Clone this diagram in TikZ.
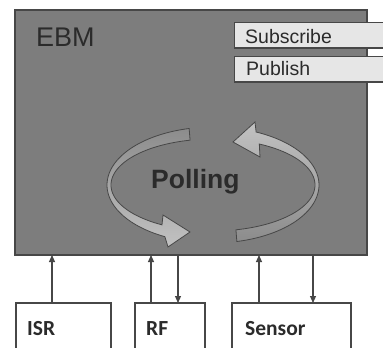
\documentclass[tikz,border=0pt]{standalone}
\usepackage{fontspec}
\setmainfont{Liberation Sans}
\newfontfamily\labelfont{Carlito}
\usetikzlibrary{arrows.meta}
\definecolor{panel}{HTML}{7D7D7D}
\definecolor{edge}{HTML}{474747}
\definecolor{ink}{HTML}{2B2B2B}
\definecolor{tabfill}{HTML}{E6E6E6}
\definecolor{loopdark}{HTML}{8C8C8C}
\definecolor{looplight}{HTML}{C2C2C2}
\tikzset{
  panelbox/.style={draw=edge, line width=1.2pt, fill=panel, inner sep=0pt, outer sep=0pt},
  tabbox/.style={draw=edge, line width=0.9pt, fill=tabfill, inner sep=0pt, outer sep=0pt, minimum height=26pt, minimum width=156pt, anchor=north west},
  unitbox/.style={draw=edge, line width=1.1pt, fill=white, inner sep=0pt, outer sep=0pt, minimum height=60pt, anchor=north west},
  tabtext/.style={font=\fontsize{19.5}{20}\selectfont, text=ink, inner sep=0pt, anchor=base west},
  unittext/.style={font=\labelfont\bfseries\fontsize{21.5}{22}\selectfont, text=ink, inner sep=0pt, anchor=base west},
  conn/.style={draw=edge, line width=1.1pt, -{Triangle[width=6pt,length=7pt]}},
  loop/.style={draw=edge, line width=0.8pt}
}
\begin{document}
\begin{tikzpicture}[x=1pt,y=-1pt]
\clip (0,0) rectangle (383,348);
\fill[white] (0,0) rectangle (383,348);

% main module
\node[panelbox, minimum width=352pt, minimum height=245pt] (ebm) at (191,132.5) {};
\node[font=\fontsize{27}{28}\selectfont, text=ink, inner sep=0pt, anchor=base west] (ebmlabel) at (36,46) {EBM};

% subscribe / publish tabs
\node[tabbox] (sub) at (234,22) {};
\draw[edge, line width=1.6pt] (sub.south west) -- (sub.south east);
\node[tabtext] (subtext) at (245,43) {Subscribe};
\node[tabbox] (pub) at (234,56) {};
\draw[edge, line width=1.6pt] (pub.south west) -- (pub.south east);
\node[tabtext] (pubtext) at (246,75) {Publish};

% polling loop: two curved arrows on a ring seen in perspective
\def\cx{213}\def\cy{185}\def\rx{104}\def\ry{52}
\path[loop, top color=loopdark, bottom color=looplight]
  plot[domain=103:243, variable=\t, samples=60] ({\cx+(\rx+2)*cos(\t)},{\cy-(\ry+6)*sin(\t)})
  -- (168,247) -- (190,232) -- (163,215)
  -- plot[domain=240:103, variable=\t, samples=60] ({\cx+(\rx-2)*cos(\t)},{\cy-(\ry-6)*sin(\t)})
  -- cycle;
\path[loop, top color=looplight, bottom color=loopdark]
  plot[domain=283:426, variable=\t, samples=60] ({\cx+(\rx+2)*cos(\t)},{\cy-(\ry+6)*sin(\t)})
  -- (255,122) -- (233,142) -- (260,157)
  -- plot[domain=423:283, variable=\t, samples=60] ({\cx+(\rx-2)*cos(\t)},{\cy-(\ry-6)*sin(\t)})
  -- cycle;
\node[font=\bfseries\fontsize{26.5}{27}\selectfont, text=ink, inner sep=0pt, anchor=base west] (polling) at (151,188) {Polling};

% attached units
\node[unitbox, minimum width=95pt] (isr) at (16,303) {};
\node[unittext] (isrtext) at (27,335) {ISR};
\node[unitbox, minimum width=70pt] (rf) at (135,303) {};
\node[unittext] (rftext) at (146,335) {RF};
\node[unitbox, minimum width=119pt] (sensor) at (232,303) {};
\node[unittext] (sensortext) at (245,335) {Sensor};

% connectors
\coordinate (c1) at (52,0);
\coordinate (c2) at (151,0);
\coordinate (c3) at (178,0);
\coordinate (c4) at (259,0);
\coordinate (c5) at (313,0);
\draw[conn] (c1 |- isr.north) -- (c1 |- ebm.south);
\draw[conn] (c2 |- rf.north) -- (c2 |- ebm.south);
\draw[conn] (c3 |- ebm.south) -- (c3 |- rf.north);
\draw[conn] (c4 |- sensor.north) -- (c4 |- ebm.south);
\draw[conn] (c5 |- ebm.south) -- (c5 |- sensor.north);
\end{tikzpicture}
\end{document}
